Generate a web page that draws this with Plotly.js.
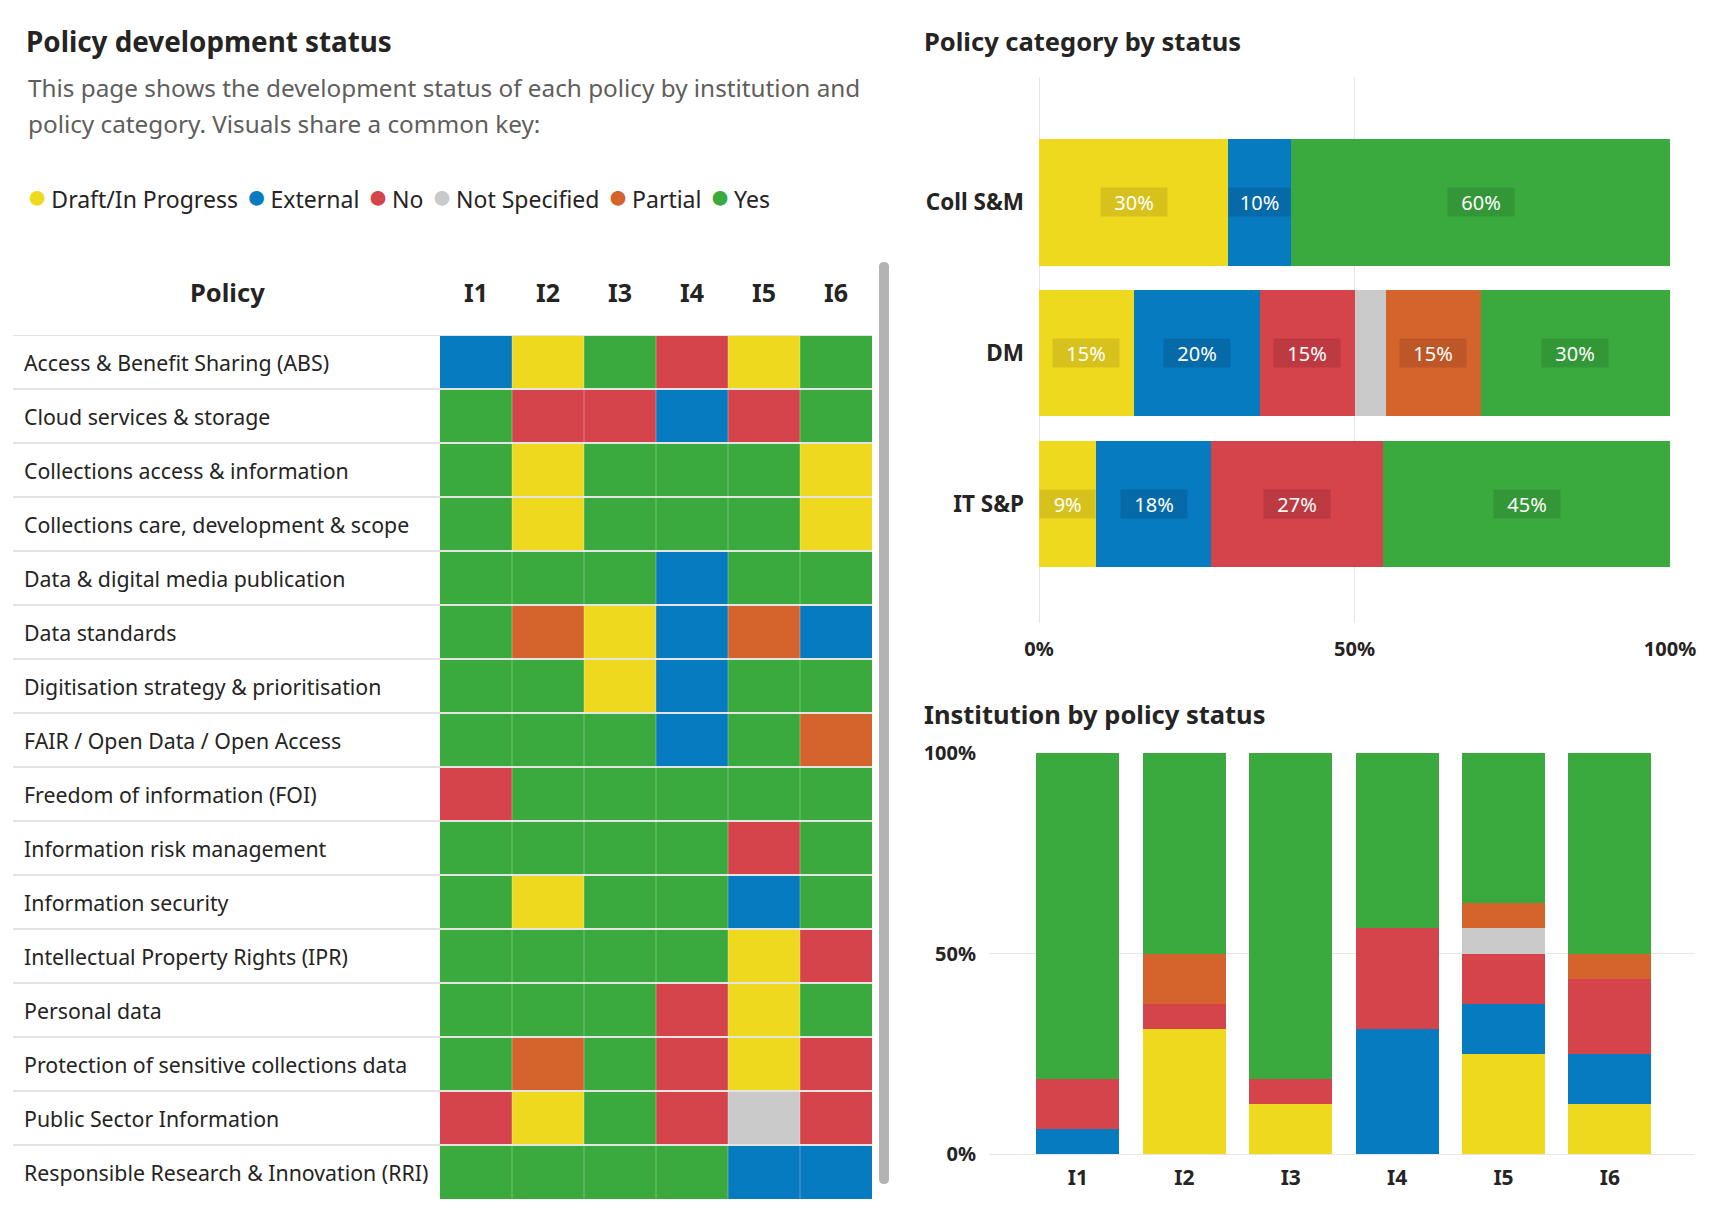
<!DOCTYPE html>
<html>
<head>
<meta charset="utf-8">
<script src="https://cdn.plot.ly/plotly-3.0.1.min.js"></script>
<style>
  html, body { margin: 0; padding: 0; background: #fff; }
  #chart { width: 1729px; height: 1217px; }
</style>
</head>
<body>
<div id="chart"></div>
<script>
// status key shared by all three visuals
const statuses = ['Draft/In Progress', 'External', 'No', 'Not Specified', 'Partial', 'Yes'];
const statusCodes = ['D', 'E', 'N', 'U', 'P', 'Y'];
const statusColors = ['#EFD91F', '#077BC0', '#D5434B', '#CACACA', '#D5632C', '#3AAA3F'];
const labelColors = ['#D7C11D', '#0669A8', '#BD3A42', '#B5B5B5', '#BD5727', '#339637'];

const institutions = ['I1', 'I2', 'I3', 'I4', 'I5', 'I6'];
const policies = [
  'Access & Benefit Sharing (ABS)',
  'Cloud services & storage',
  'Collections access & information',
  'Collections care, development & scope',
  'Data & digital media publication',
  'Data standards',
  'Digitisation strategy & prioritisation',
  'FAIR / Open Data / Open Access',
  'Freedom of information (FOI)',
  'Information risk management',
  'Information security',
  'Intellectual Property Rights (IPR)',
  'Personal data',
  'Protection of sensitive collections data',
  'Public Sector Information',
  'Responsible Research & Innovation (RRI)',
];
// one row per policy, one code per institution I1..I6
const policyStatus = [
  ['E', 'D', 'Y', 'N', 'D', 'Y'],
  ['Y', 'N', 'N', 'E', 'N', 'Y'],
  ['Y', 'D', 'Y', 'Y', 'Y', 'D'],
  ['Y', 'D', 'Y', 'Y', 'Y', 'D'],
  ['Y', 'Y', 'Y', 'E', 'Y', 'Y'],
  ['Y', 'P', 'D', 'E', 'P', 'E'],
  ['Y', 'Y', 'D', 'E', 'Y', 'Y'],
  ['Y', 'Y', 'Y', 'E', 'Y', 'P'],
  ['N', 'Y', 'Y', 'Y', 'Y', 'Y'],
  ['Y', 'Y', 'Y', 'Y', 'N', 'Y'],
  ['Y', 'D', 'Y', 'Y', 'E', 'Y'],
  ['Y', 'Y', 'Y', 'Y', 'D', 'N'],
  ['Y', 'Y', 'Y', 'N', 'D', 'Y'],
  ['Y', 'P', 'Y', 'N', 'D', 'N'],
  ['N', 'D', 'Y', 'N', 'U', 'N'],
  ['Y', 'Y', 'Y', 'Y', 'E', 'E'],
];

// policy category by status, percent per category
const categories = ['Coll S&M', 'DM', 'IT S&P'];
const catDraft = [30, 15, 9];
const catExternal = [10, 20, 18];
const catNo = [0, 15, 27];
const catNotSpecified = [0, 5, 0];
const catPartial = [0, 15, 0];
const catYes = [60, 30, 45];
const catValues = [catDraft, catExternal, catNo, catNotSpecified, catPartial, catYes];

const W = 1729;
const H = 1217;
const px = v => v / W;
const py = v => 1 - v / H;
const FONT = 'Noto Sans, Segoe UI, sans-serif';
const DARK = '#252423';

// heatmap
const z = policyStatus.map(row => row.map(c => statusCodes.indexOf(c)));
const colorscale = [];
statusColors.forEach((c, i) => {
  colorscale.push([i / statuses.length, c], [(i + 1) / statuses.length, c]);
});
const heatmap = {
  type: 'heatmap',
  x: institutions,
  y: policies,
  z,
  zmin: -0.5,
  zmax: statuses.length - 0.5,
  colorscale,
  showscale: false,
  xaxis: 'x',
  yaxis: 'y',
  hoverinfo: 'x+y',
};

const categoryTraces = catValues.map((vals, i) => ({
  type: 'bar',
  orientation: 'h',
  y: categories,
  x: vals,
  name: statuses[i],
  width: 0.84,
  marker: { color: statusColors[i], line: { width: 0 } },
  xaxis: 'x2',
  yaxis: 'y2',
  showlegend: false,
}));

// institution counts come straight from the heatmap grid
const instCounts = statusCodes.map(code =>
  institutions.map((_, j) => policyStatus.filter(row => row[j] === code).length));
const instTraces = instCounts.map((vals, i) => ({
  type: 'bar',
  x: institutions,
  y: vals,
  name: statuses[i],
  width: 0.78,
  marker: { color: statusColors[i], line: { width: 0 } },
  xaxis: 'x3',
  yaxis: 'y3',
  showlegend: false,
}));

const annotations = [];
const shapes = [];

// subtitle + common key
annotations.push({
  xref: 'paper', yref: 'paper', x: px(26), y: py(88), xanchor: 'left', yanchor: 'middle',
  text: 'This page shows the development status of each policy by institution and',
  showarrow: false, font: { family: FONT, size: 24.3, color: '#605E5C' },
});
annotations.push({
  xref: 'paper', yref: 'paper', x: px(26), y: py(124), xanchor: 'left', yanchor: 'middle',
  text: 'policy category. Visuals share a common key:',
  showarrow: false, font: { family: FONT, size: 24.3, color: '#605E5C' },
});
annotations.push({
  xref: 'paper', yref: 'paper', x: px(25), y: py(195), xanchor: 'left', yanchor: 'middle',
  text: statuses.map((s, i) => `<span style="color:${statusColors[i]};font-size:34px">●</span>\u2009${s}`).join(' \u200A'),
  showarrow: false, font: { family: FONT, size: 23, color: DARK },
});

// table header and row labels
annotations.push({
  xref: 'paper', yref: 'paper', x: px(227), y: py(292), xanchor: 'center', yanchor: 'middle',
  text: '<b>Policy</b>', showarrow: false, font: { family: FONT, size: 25.5, color: DARK },
});
policies.forEach(p => {
  annotations.push({
    xref: 'paper', yref: 'y', x: px(22), y: p, xanchor: 'left', yanchor: 'middle',
    text: p.replace(/&/g, '&amp;'), showarrow: false, font: { family: FONT, size: 21.3, color: DARK },
  });
});
for (let i = -1; i < policies.length - 1; i += 1) {
  shapes.push({
    type: 'line', xref: 'paper', yref: 'y', x0: px(13), x1: px(872), y0: i + 0.5, y1: i + 0.5,
    line: { color: '#E4E4E4', width: 2 }, layer: 'above',
  });
}
for (let j = 0; j < institutions.length - 1; j += 1) {
  shapes.push({
    type: 'line', xref: 'x', yref: 'y', x0: j + 0.5, x1: j + 0.5, y0: -0.5, y1: policies.length - 0.5,
    line: { color: 'rgba(255,255,255,0.3)', width: 1 }, layer: 'above',
  });
}
// scroll bar of the table
shapes.push({
  type: 'path', xref: 'paper', yref: 'paper', xsizemode: 'pixel', ysizemode: 'pixel',
  xanchor: px(884), yanchor: py(723),
  path: 'M -5,-456 L -5,456 Q -5,461 0,461 Q 5,461 5,456 L 5,-456 Q 5,-461 0,-461 Q -5,-461 -5,-456 Z',
  fillcolor: '#B3B3B3', line: { width: 0 },
});

// chart titles
annotations.push({
  xref: 'paper', yref: 'paper', x: px(922), y: py(41), xanchor: 'left', yanchor: 'middle',
  text: '<b>Policy category by status</b>', showarrow: false, font: { family: FONT, size: 25.5, color: DARK },
});
annotations.push({
  xref: 'paper', yref: 'paper', x: px(922), y: py(714), xanchor: 'left', yanchor: 'middle',
  text: '<b>Institution by policy status</b>', showarrow: false, font: { family: FONT, size: 25.5, color: DARK },
});

// data labels on the category bars
const x2Domain = [px(1039), px(1670)];
const plotW2 = (x2Domain[1] - x2Domain[0]) * W;
categories.forEach((cat, k) => {
  const total = catValues.reduce((s, vals) => s + vals[k], 0);
  let acc = 0;
  catValues.forEach((vals, i) => {
    const pct = vals[k] / total * 100;
    const mid = acc + pct / 2;
    acc += pct;
    const segPx = pct / 100 * plotW2;
    if (segPx < 40) return;
    annotations.push({
      xref: 'x2', yref: 'y2', x: mid, y: cat, text: `${vals[k]}%`, showarrow: false,
      font: { family: FONT, size: 20, color: '#FFFFFF' },
      bgcolor: labelColors[i], width: Math.min(62, segPx - 6), height: 24, borderpad: 2,
    });
  });
});

const tickFont = size => ({ family: FONT, size, color: DARK, weight: 'bold' });

const layout = {
  width: W,
  height: H,
  margin: { l: 0, r: 0, t: 0, b: 0 },
  paper_bgcolor: '#FFFFFF',
  plot_bgcolor: '#FFFFFF',
  font: { family: FONT, color: DARK },
  title: {
    text: 'Policy development status',
    xref: 'paper', yref: 'container', x: px(26), y: py(42), xanchor: 'left', yanchor: 'middle',
    font: { family: FONT, size: 27.8, color: DARK, weight: 'bold' },
  },
  barmode: 'stack',
  barnorm: 'percent',
  showlegend: false,
  xaxis: {
    domain: [px(440), px(872)], anchor: 'y', side: 'top', range: [-0.5, 5.5],
    showgrid: false, zeroline: false, showline: false, ticks: '',
    tickfont: tickFont(25), ticklabelstandoff: 27, fixedrange: true,
  },
  yaxis: {
    domain: [py(1199), py(335)], anchor: 'x', range: [policies.length - 0.5, -0.5],
    showticklabels: false, showgrid: false, zeroline: false, showline: false, ticks: '', fixedrange: true,
  },
  xaxis2: {
    domain: x2Domain, anchor: 'y2', range: [0, 100],
    tickvals: [0, 50, 100], ticktext: ['0%', '50%', '100%'],
    showgrid: true, gridcolor: '#E6E6E6', gridwidth: 1, zeroline: true, zerolinecolor: '#E6E6E6',
    showline: false, ticks: '', tickfont: tickFont(20), ticklabelstandoff: 12, fixedrange: true,
  },
  yaxis2: {
    domain: [py(623), py(77)], anchor: 'x2', type: 'category', categoryarray: categories,
    range: [2.79, -0.83], showgrid: false, zeroline: false, showline: false, ticks: '',
    tickfont: tickFont(22.5), ticklabelstandoff: 14, fixedrange: true,
  },
  xaxis3: {
    domain: [px(989), px(1695)], anchor: 'y3', range: [-0.836, 5.8],
    showgrid: false, zeroline: false, showline: false, ticks: '',
    tickfont: tickFont(21), ticklabelstandoff: 9, fixedrange: true,
  },
  yaxis3: {
    domain: [py(1154), py(753)], anchor: 'x3', range: [0, 100],
    tickvals: [0, 50, 100], ticktext: ['0%', '50%', '100%'],
    showgrid: true, gridcolor: '#E6E6E6', zeroline: true, zerolinecolor: '#E6E6E6',
    showline: false, ticks: '', tickfont: tickFont(20), ticklabelstandoff: 12, fixedrange: true,
  },
  annotations,
  shapes,
};

Plotly.newPlot('chart', [heatmap, ...categoryTraces, ...instTraces], layout, { displayModeBar: false });
</script>
</body>
</html>
